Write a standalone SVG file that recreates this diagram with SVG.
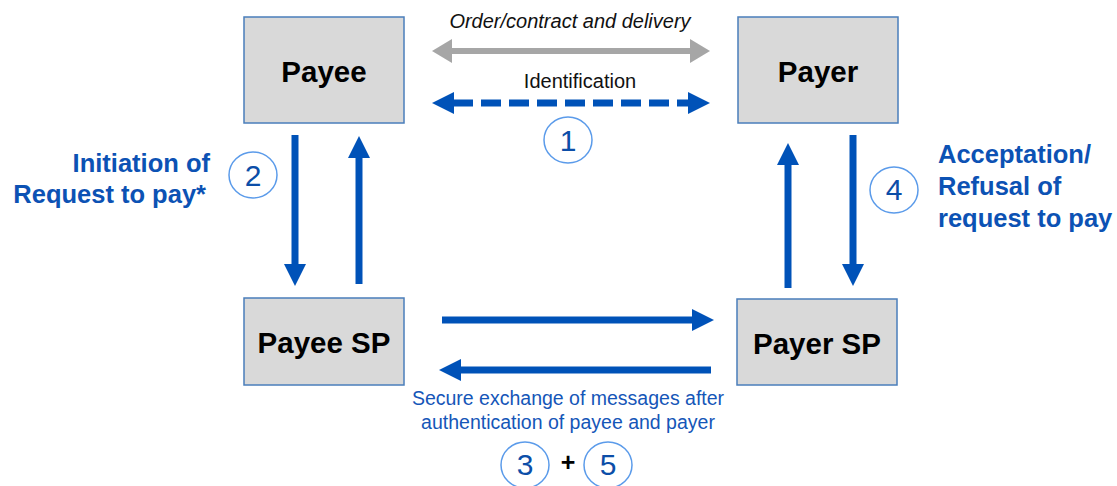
<svg xmlns="http://www.w3.org/2000/svg" width="1117" height="486" viewBox="0 0 1117 486">
<defs>
<style>
.box{fill:#d9d9d9;stroke:#4a7ebb;stroke-width:1.5}
.nt{font-family:"Liberation Sans",Arial,sans-serif;font-weight:bold;font-size:29.5px;fill:#000;text-anchor:middle}
.blue{stroke:#0052b8;stroke-width:7;fill:none}
.gray{stroke:#a6a6a6;stroke-width:6;fill:none}
.circ{fill:#fff;stroke:#5b9bea;stroke-width:1.5}
.num{font-family:"Liberation Sans",Arial,sans-serif;font-size:30px;fill:#0c4ea8;text-anchor:middle}
.lbl{font-family:"Liberation Sans",Arial,sans-serif;font-size:20px;fill:#111;text-anchor:middle}
.bl{font-family:"Liberation Sans",Arial,sans-serif;font-size:19.5px;fill:#1556b8;text-anchor:middle}
.side{font-family:"Liberation Sans",Arial,sans-serif;font-weight:bold;font-size:25.5px;fill:#0c52b4}
</style>
<marker id="hb" viewBox="0 0 22 22" markerWidth="22" markerHeight="22" refX="1" refY="11" orient="auto-start-reverse" markerUnits="userSpaceOnUse"><path d="M0,0 L22,11 L0,22 z" fill="#0052b8"/></marker>
<marker id="hg" viewBox="0 0 20 24" markerWidth="20" markerHeight="24" refX="1" refY="12" orient="auto-start-reverse" markerUnits="userSpaceOnUse"><path d="M0,0 L20,12 L0,24 z" fill="#a6a6a6"/></marker>
</defs>
<g id="connectors">
<line class="gray" x1="451" y1="51" x2="691" y2="51" marker-start="url(#hg)" marker-end="url(#hg)"/>
<line class="blue" x1="453" y1="103" x2="689" y2="103" stroke-dasharray="20 8" stroke-width="8" marker-start="url(#hb)" marker-end="url(#hb)"/>
<line class="blue" x1="295" y1="135" x2="295" y2="265" marker-end="url(#hb)"/>
<line class="blue" x1="359" y1="284" x2="359" y2="157" marker-end="url(#hb)"/>
<line class="blue" x1="788" y1="288" x2="788" y2="164" marker-end="url(#hb)"/>
<line class="blue" x1="853" y1="135" x2="853" y2="265" marker-end="url(#hb)"/>
<line class="blue" x1="442" y1="320" x2="693" y2="320" marker-end="url(#hb)"/>
<line class="blue" x1="711" y1="370" x2="460" y2="370" marker-end="url(#hb)"/>
</g>
<g id="payee"><rect class="box" x="244" y="17" width="160" height="106"/><text class="nt" x="324" y="82">Payee</text></g>
<g id="payer"><rect class="box" x="738" y="17" width="160" height="106"/><text class="nt" x="818" y="82">Payer</text></g>
<g id="payee-sp"><rect class="box" x="244" y="298" width="160" height="87"/><text class="nt" x="324" y="353">Payee SP</text></g>
<g id="payer-sp"><rect class="box" x="737" y="299" width="160" height="86"/><text class="nt" x="817" y="354">Payer SP</text></g>
<g id="labels">
<text class="lbl" x="570" y="28" font-style="italic">Order/contract and delivery</text>
<text class="lbl" x="580" y="88">Identification</text>
<ellipse class="circ" cx="568" cy="140" rx="24" ry="23"/><text class="num" x="568" y="151">1</text>
<ellipse class="circ" cx="253" cy="175" rx="24" ry="23"/><text class="num" x="253" y="186">2</text>
<ellipse class="circ" cx="894" cy="190" rx="24" ry="23"/><text class="num" x="894" y="200">4</text>
<ellipse class="circ" cx="525" cy="465" rx="24" ry="23"/><text class="num" x="525" y="475">3</text>
<ellipse class="circ" cx="608" cy="465" rx="24" ry="23"/><text class="num" x="608" y="475">5</text>
<text x="568" y="471" font-family="Liberation Sans,Arial,sans-serif" font-weight="bold" font-size="25" text-anchor="middle" fill="#000">+</text>
<text class="side" x="210" y="172" text-anchor="end">Initiation of</text>
<text class="side" x="206" y="203" text-anchor="end">Request to pay*</text>
<text class="side" x="938" y="163">Acceptation/</text>
<text class="side" x="938" y="195">Refusal of</text>
<text class="side" x="938" y="227">request to pay</text>
<text class="bl" x="568" y="405">Secure exchange of messages after</text>
<text class="bl" x="568" y="429">authentication of payee and payer</text>
</g>
</svg>
